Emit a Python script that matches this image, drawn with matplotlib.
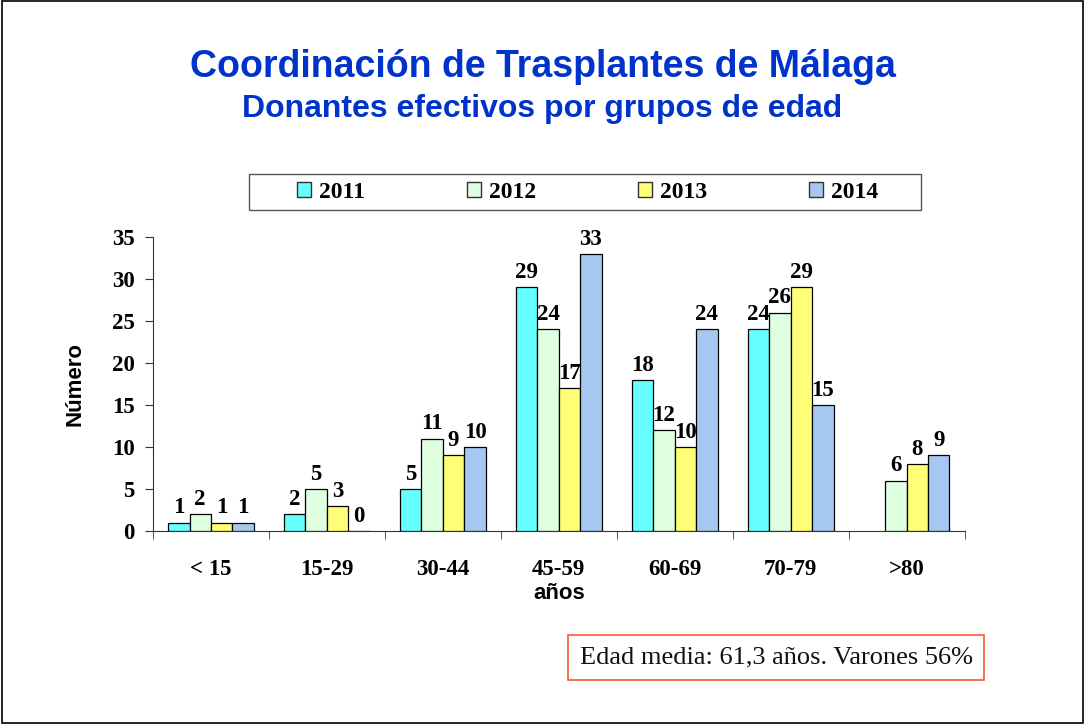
import matplotlib
matplotlib.use("Agg")
import matplotlib.pyplot as plt
from matplotlib.patches import Rectangle, Patch
import numpy as np

categories = ["< 15", "15-29", "30-44", "45-59", "60-69", "70-79", ">80"]
years = ["2011", "2012", "2013", "2014"]
v2011 = [1, 2, 5, 29, 18, 24, np.nan]
v2012 = [2, 5, 11, 24, 12, 26, 6]
v2013 = [1, 3, 9, 17, 10, 29, 8]
v2014 = [1, 0, 10, 33, 24, 15, 9]
series = [v2011, v2012, v2013, v2014]
colors = ["#66FFFF", "#E0FFE0", "#FFFF77", "#A6C8F0"]
yticks = [0, 5, 10, 15, 20, 25, 30, 35]

fig = plt.figure(figsize=(10.85, 7.24), dpi=100)
ax = fig.add_axes([0.141, 0.2666, 0.748, 0.4061])

serif = "Liberation Serif"
sans = "Liberation Sans"
fs = 16.5

x = np.arange(len(categories))
w = 0.185
for i, (vals, col) in enumerate(zip(series, colors)):
    pos = x + (i - 1.5) * w
    arr = np.array(vals, dtype=float)
    ax.bar(pos, arr, width=w, color=col, edgecolor="black", linewidth=0.9, label=years[i], zorder=3)
    for p, v in zip(pos, arr):
        if not np.isnan(v):
            ax.text(p, v + 0.5, f"{int(v)}", ha="center", va="bottom",
                    fontfamily=serif, fontweight="bold", fontsize=fs)

ax.set_xlim(-0.5, len(categories) - 0.5)
ax.set_ylim(0, 35)
ax.set_yticks(yticks)
ax.set_yticklabels([str(t) for t in yticks], fontfamily=serif, fontweight="bold", fontsize=fs)
ax.set_xticks(x)
ax.set_xticklabels(categories, fontfamily=serif, fontweight="bold", fontsize=fs)
ax.set_xticks(np.arange(-0.5, len(categories)), minor=True)
ax.tick_params(axis="x", which="major", length=0, pad=20)
ax.tick_params(axis="x", which="minor", length=6, direction="out", color="#333333")
ax.tick_params(axis="y", length=6, direction="out", color="#333333", pad=7)
for s in ["top", "right"]:
    ax.spines[s].set_visible(False)
ax.spines["left"].set_color("#333333")
ax.spines["bottom"].set_color("#333333")

ax.set_ylabel("Número", fontfamily=sans, fontweight="bold", fontsize=16, labelpad=19)
ax.set_xlabel("años", fontfamily=sans, fontweight="bold", fontsize=16, labelpad=2)

fig.text(0.5, 0.907, "Coordinación de Trasplantes de Málaga", ha="center", va="center",
         fontfamily=sans, fontweight="bold", fontsize=27, color="#0033CC")
fig.text(0.5, 0.850, "Donantes efectivos por grupos de edad", ha="center", va="center",
         fontfamily=sans, fontweight="bold", fontsize=23, color="#0033CC")

# legend frame drawn separately for wide side padding
fig.add_artist(Rectangle((249 / 1085, 1 - 210 / 724), 672 / 1085, 36 / 724,
                         transform=fig.transFigure, facecolor="white",
                         edgecolor="#555555", linewidth=1.0, zorder=1))
handles = [Patch(facecolor=c, edgecolor="#333333", linewidth=1.0) for c in colors]
leg = fig.legend(handles, years, loc="center", bbox_to_anchor=(587.5 / 1085, 1 - 192 / 724), ncol=4,
                 frameon=False,
                 prop={"family": serif, "weight": "bold", "size": 17},
                 handlelength=0.6, handleheight=0.6, handletextpad=0.35,
                 columnspacing=4.3, borderpad=0.3, borderaxespad=0)
leg.set_zorder(2)

fig.text(0.7154, 1 - 657.5 / 724, "Edad media: 61,3 años. Varones 56%", ha="center", va="center",
         fontfamily=serif, fontsize=19, color="#111111",
         bbox=dict(boxstyle="square,pad=0.43", facecolor="white", edgecolor="#FF5533", linewidth=1.2))

fig.add_artist(Rectangle((0.0015, 0.002), 0.997, 0.996, transform=fig.transFigure,
                         fill=False, edgecolor="black", linewidth=1.2))

fig.savefig("out.png", dpi=100)
